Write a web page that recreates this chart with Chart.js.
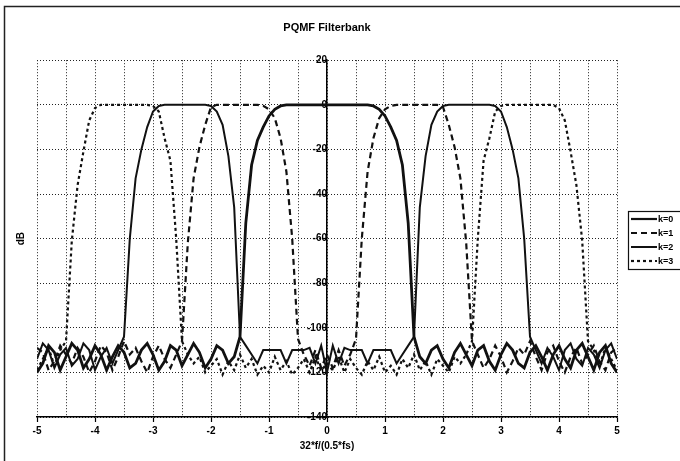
<!DOCTYPE html>
<html>
<head>
<meta charset="utf-8">
<title>PQMF Filterbank</title>
<script src="https://cdn.jsdelivr.net/npm/chart.js@4.4.0/dist/chart.umd.min.js"></script>
<style>
  html, body { margin: 0; padding: 0; background: #fff; }
  #wrap { width: 680px; height: 461px; }
</style>
</head>
<body>
<div id="wrap"><canvas id="pqmfChart" width="680" height="461"></canvas></div>
<script>
// x = 32*f/(0.5*fs)
const freq = [
  -5.0, -4.9, -4.8, -4.7, -4.6, -4.5, -4.4, -4.3, -4.2, -4.1,
  -4.0, -3.9, -3.8, -3.7, -3.6, -3.5, -3.4, -3.3, -3.2, -3.1,
  -3.0, -2.9, -2.8, -2.7, -2.6, -2.5, -2.4, -2.3, -2.2, -2.1,
  -2.0, -1.9, -1.8, -1.7, -1.6, -1.5, -1.4, -1.3, -1.2, -1.1,
  -1.0, -0.9, -0.8, -0.7, -0.6, -0.5, -0.4, -0.3, -0.2, -0.1,
  0.0,
  0.1, 0.2, 0.3, 0.4, 0.5, 0.6, 0.7, 0.8, 0.9, 1.0,
  1.1, 1.2, 1.3, 1.4, 1.5, 1.6, 1.7, 1.8, 1.9, 2.0,
  2.1, 2.2, 2.3, 2.4, 2.5, 2.6, 2.7, 2.8, 2.9, 3.0,
  3.1, 3.2, 3.3, 3.4, 3.5, 3.6, 3.7, 3.8, 3.9, 4.0,
  4.1, 4.2, 4.3, 4.4, 4.5, 4.6, 4.7, 4.8, 4.9, 5.0
];

// dB
const k0 = [
  -120, -116, -108, -111, -119, -113, -107, -110, -118, -114,
  -108, -112, -119, -113, -108, -111, -118, -116, -110, -107,
  -112, -119, -115, -108, -110, -117, -112, -107, -111, -118,
  -114, -108, -110, -116, -113, -104, -53, -27, -16, -10,
  -5, -2, -0.5, 0, 0, 0, 0, 0, 0, 0,
  0,
  0, 0, 0, 0, 0, 0, 0, -0.5, -2, -5,
  -10, -16, -27, -53, -104, -113, -116, -110, -108, -114,
  -118, -111, -107, -112, -117, -110, -108, -115, -119, -112,
  -107, -110, -116, -118, -111, -108, -113, -119, -112, -108,
  -114, -118, -110, -107, -113, -119, -111, -108, -116, -120
];

const k1 = [
  -109, -111, -119, -115, -108, -112, -116, -109, -113, -120,
  -115, -108, -111, -119, -113, -106, -112, -109, -115, -120,
  -113, -108, -114, -118, -112, -106, -62, -33, -19, -9,
  -1, 0, 0, 0, 0, 0, 0, 0, 0, -0.5,
  -2, -6, -15, -30, -60, -105, -112, -117, -110, -118,
  -112,
  -118, -110, -117, -112, -105, -60, -30, -15, -6, -2,
  -0.5, 0, 0, 0, 0, 0, 0, 0, 0, -1,
  -9, -19, -33, -62, -106, -112, -118, -114, -108, -113,
  -120, -115, -109, -112, -106, -113, -119, -111, -108, -115,
  -120, -113, -109, -116, -112, -108, -115, -119, -111, -109
];

const k2 = [
  -114, -107, -110, -118, -112, -109, -117, -114, -107, -110,
  -119, -113, -109, -116, -110, -104, -60, -33, -20, -10,
  -3, -0.5, 0, 0, 0, 0, 0, 0, 0, 0,
  -0.5, -3, -9, -23, -46, -104, -108, -112, -116, -110,
  -110, -110, -110, -116, -110, -110, -110, -109, -116, -108,
  -120,
  -108, -116, -109, -110, -110, -110, -116, -110, -110, -110,
  -110, -116, -112, -108, -104, -46, -23, -9, -3, -0.5,
  0, 0, 0, 0, 0, 0, 0, 0, -0.5, -3,
  -10, -20, -33, -60, -104, -110, -116, -109, -113, -119,
  -110, -107, -114, -117, -109, -112, -118, -110, -107, -114
];

const k3 = [
  -119, -114, -109, -117, -110, -106, -61, -36, -21, -7,
  -1.5, 0, 0, 0, 0, 0, 0, 0, 0, 0,
  -0.5, -3, -15, -25, -60, -106, -112, -116, -113, -120,
  -117, -114, -121, -115, -119, -112, -118, -114, -121, -117,
  -120, -113, -119, -115, -121, -118, -114, -120, -113, -119,
  -116,
  -119, -113, -120, -114, -118, -121, -115, -119, -113, -120,
  -117, -121, -114, -118, -112, -119, -115, -121, -114, -117,
  -120, -113, -116, -112, -106, -60, -25, -15, -3, -0.5,
  0, 0, 0, 0, 0, 0, 0, 0, 0, -1.5,
  -7, -21, -36, -61, -106, -110, -117, -109, -114, -119
];

const seriesNames = ['k=0', 'k=1', 'k=2', 'k=3'];
const xTickLabels = [-5, -4, -3, -2, -1, 0, 1, 2, 3, 4, 5];
const yTickLabels = [20, 0, -20, -40, -60, -80, -100, -120, -140];

const FONT = '"Liberation Sans", Arial, sans-serif';

function toPoints(values) {
    const pts = [];
    for (let i = 0; i < freq.length; i++) {
        pts.push({ x: freq[i], y: values[i] });
    }
    return pts;
}

const lineStyles = [
    { width: 2.8, dash: [] },
    { width: 2.2, dash: [6, 4] },
    { width: 2, dash: [] },
    { width: 2.2, dash: [3, 3] }
];

const datasets = [k0, k1, k2, k3].map((vals, i) => ({
    label: seriesNames[i],
    data: toPoints(vals),
    borderColor: '#111',
    backgroundColor: '#111',
    borderWidth: lineStyles[i].width,
    borderDash: lineStyles[i].dash,
    pointRadius: 0,
    tension: 0,
    fill: false
}));

// frame, rotated "dB" title and the boxed legend on the right
const decorPlugin = {
    id: 'decor',
    beforeDraw(chart) {
        const ctx = chart.ctx;
        ctx.save();
        ctx.fillStyle = '#fff';
        ctx.fillRect(0, 0, chart.width, chart.height);
        ctx.strokeStyle = '#222';
        ctx.lineWidth = 1.5;
        ctx.strokeRect(4.5, 6.5, chart.width + 10, chart.height + 10);
        ctx.restore();
    },
    afterDraw(chart) {
        const ctx = chart.ctx;
        const area = chart.chartArea;
        ctx.save();

        ctx.fillStyle = '#000';
        ctx.font = 'bold 10px ' + FONT;
        ctx.textAlign = 'center';
        ctx.textBaseline = 'middle';
        ctx.translate(area.left - 16, (area.top + area.bottom) / 2);
        ctx.rotate(-Math.PI / 2);
        ctx.fillText('dB', 0, 0);
        ctx.setTransform(1, 0, 0, 1, 0, 0);

        const boxLeft = area.right + 11;
        const boxTop = 211;
        const rowH = 14;
        ctx.strokeStyle = '#111';
        ctx.lineWidth = 1.2;
        ctx.strokeRect(boxLeft + 0.5, boxTop + 0.5, 80, rowH * 4 + 2);
        ctx.font = 'bold 9px ' + FONT;
        ctx.textAlign = 'left';
        chart.data.datasets.forEach((ds, i) => {
            const y = boxTop + 8 + i * rowH;
            ctx.beginPath();
            ctx.setLineDash(ds.borderDash);
            ctx.lineWidth = Math.min(ds.borderWidth, 2.2);
            ctx.moveTo(boxLeft + 3, y);
            ctx.lineTo(boxLeft + 29, y);
            ctx.stroke();
            ctx.setLineDash([]);
            ctx.fillText(ds.label, boxLeft + 30, y + 0.5);
        });
        ctx.restore();
    }
};

const ctx = document.getElementById('pqmfChart').getContext('2d');
const chart = new Chart(ctx, {
    type: 'line',
    data: { datasets: datasets },
    options: {
        responsive: false,
        animation: false,
        layout: { padding: { left: 37, right: 63, top: 14, bottom: 9 } },
        plugins: {
            legend: { display: false },
            tooltip: { enabled: false },
            title: {
                display: true,
                text: 'PQMF Filterbank',
                color: '#000',
                font: { family: FONT, size: 11, weight: 'bold' },
                padding: { top: 7, bottom: 26 }
            }
        },
        scales: {
            x: {
                type: 'linear',
                min: xTickLabels[0],
                max: xTickLabels[xTickLabels.length - 1],
                ticks: {
                    stepSize: 0.5,
                    autoSkip: false,
                    maxRotation: 0,
                    padding: 3,
                    color: '#000',
                    font: { family: FONT, size: 10, weight: 'bold' },
                    callback: v => xTickLabels.includes(v) ? String(v) : ''
                },
                grid: {
                    color: '#222',
                    lineWidth: 1,
                    tickLength: 5,
                    tickWidth: 1.2,
                    tickBorderDash: [],
                    tickColor: c => (c.tick && xTickLabels.includes(c.tick.value)) ? '#000' : 'rgba(0,0,0,0)'
                },
                border: { display: true, color: '#000', width: 1.5, dash: [1, 2] },
                title: {
                    display: true,
                    text: '32*f/(0.5*fs)',
                    color: '#000',
                    font: { family: FONT, size: 10, weight: 'bold' },
                    padding: { top: 0, bottom: 0 }
                }
            },
            y: {
                type: 'linear',
                position: { x: 0 },
                min: yTickLabels[yTickLabels.length - 1],
                max: yTickLabels[0],
                afterBuildTicks: axis => { axis.ticks = yTickLabels.map(v => ({ value: v })); },
                ticks: {
                    padding: 2,
                    color: '#000',
                    font: { family: FONT, size: 10, weight: 'bold' }
                },
                grid: {
                    color: '#222',
                    lineWidth: 1,
                    tickLength: 4,
                    tickWidth: 1.2,
                    tickBorderDash: [],
                    tickColor: '#000'
                },
                border: { display: true, color: '#000', width: 1.5, dash: [1, 2] }
            }
        }
    },
    plugins: [decorPlugin]
});
</script>
</body>
</html>
